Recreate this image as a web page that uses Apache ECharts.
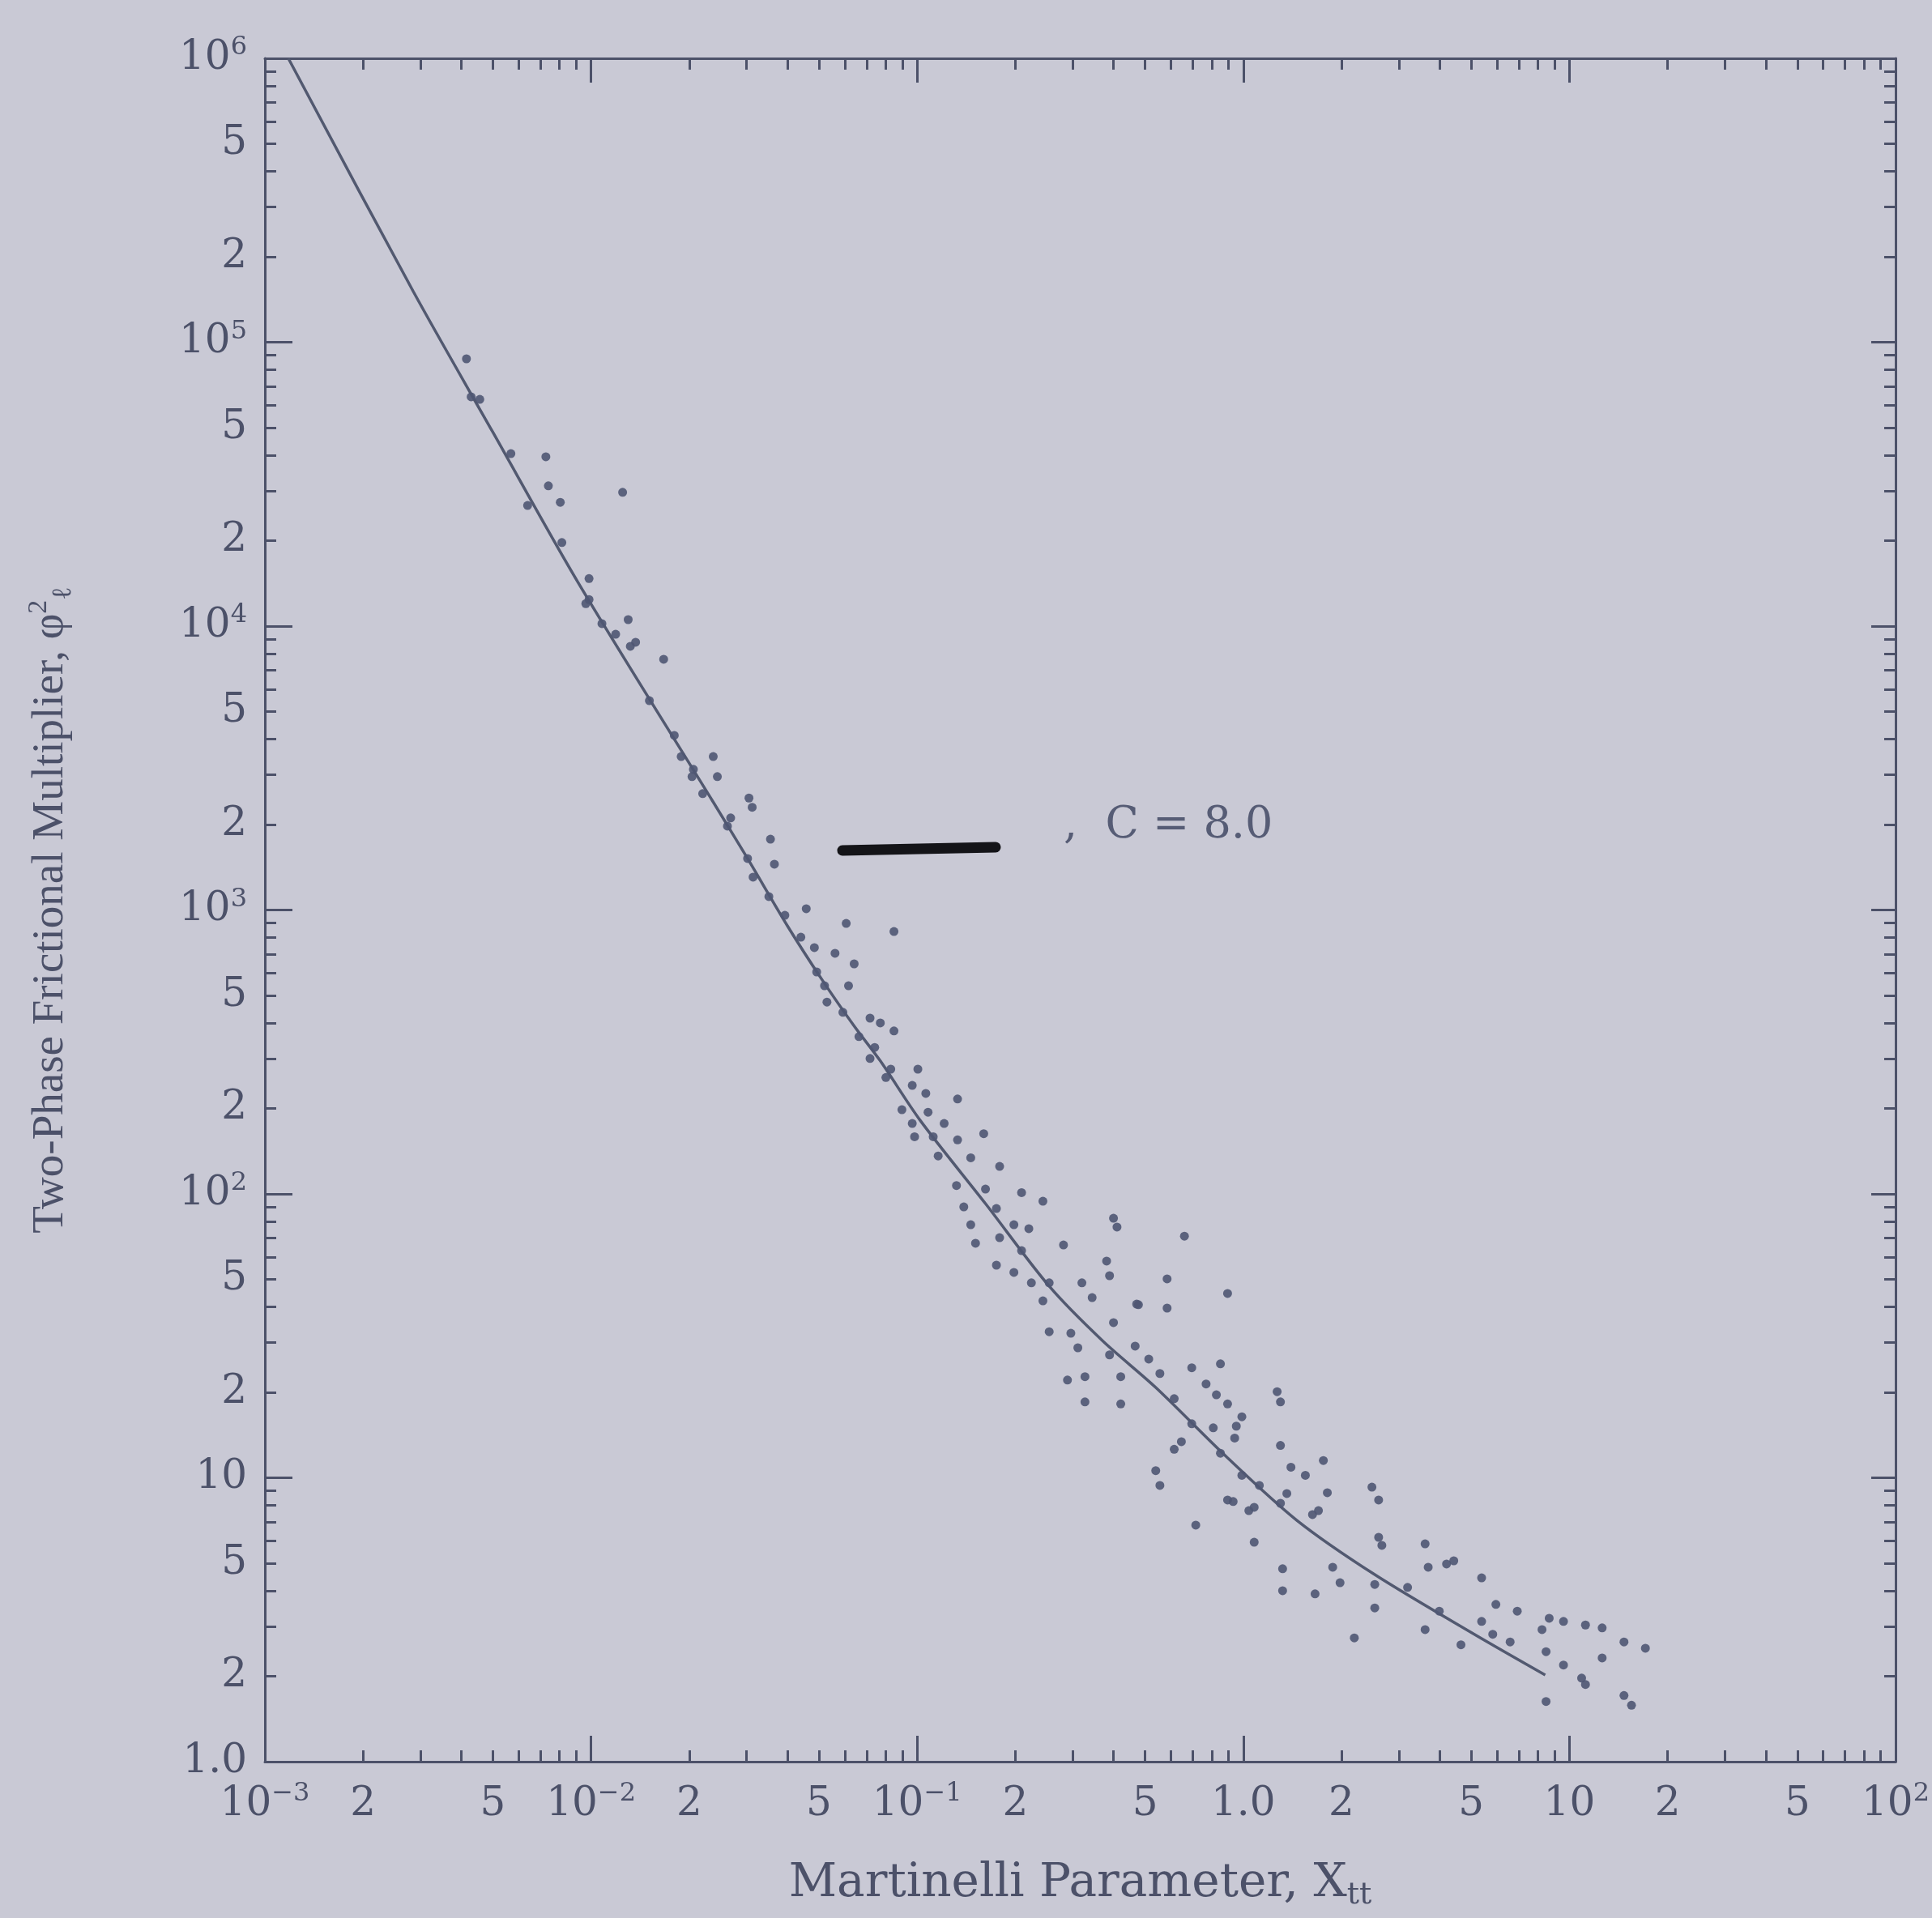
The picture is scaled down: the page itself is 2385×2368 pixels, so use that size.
<!DOCTYPE html>
<html>
<head>
<meta charset="utf-8">
<script src="https://cdn.jsdelivr.net/npm/echarts@6/dist/echarts.min.js"></script>
<style>
  html, body { margin: 0; padding: 0; background: #c9c9d5; }
  #chart { width: 2385px; height: 2368px; }
</style>
</head>
<body>
<div id="chart"></div>
<script>
// correlation curve (C = 8.0)
const curveX = [0.00118, 0.00285, 0.00499, 0.00911, 0.0237, 0.0302, 0.04, 0.0512, 0.0641, 0.0771,
  0.102, 0.162, 0.254, 0.37, 0.539, 0.885, 1.46, 2.53, 5.11, 8.43];
const curveY = [1.0e6, 1.51e5, 4.84e4, 1.43e4, 2400, 1518, 880, 566, 390, 294,
  182, 92.4, 47.3, 30.4, 20.8, 11.9, 7.08, 4.56, 2.81, 2.02];

// measured points, Martinelli parameter
const pointX = [
  0.00415, 0.00456, 0.00429, 0.00568, 0.00727, 0.0074, 0.00805, 0.00639, 0.0125, 0.00986,
  0.00986, 0.013, 0.0137, 0.0167, 0.018, 0.0189, 0.0237, 0.0244, 0.022, 0.0305,
  0.0312, 0.0262, 0.0355, 0.0204, 0.0268, 0.0119, 0.0132, 0.00964, 0.0151, 0.0206,
  0.0108, 0.00814, 0.0302, 0.0365, 0.0314, 0.0351, 0.0393, 0.0457, 0.0606, 0.0849,
  0.044, 0.0484, 0.056, 0.0641, 0.0492, 0.052, 0.0616, 0.0529, 0.0592, 0.0717,
  0.0771, 0.0663, 0.0849, 0.0741, 0.0717, 0.083, 0.1005, 0.0802, 0.0966, 0.1063,
  0.133, 0.0898, 0.108, 0.0966, 0.121, 0.112, 0.133, 0.16, 0.0982, 0.116,
  0.146, 0.179, 0.132, 0.162, 0.209, 0.243, 0.139, 0.175, 0.146, 0.198,
  0.22, 0.4, 0.41, 0.66, 0.151, 0.179, 0.281, 0.209, 0.175, 0.198,
  0.381, 0.389, 0.224, 0.254, 0.584, 0.32, 0.344, 0.243, 0.477, 0.584,
  0.895, 0.4, 0.254, 0.296, 0.311, 0.466, 0.389, 0.513, 0.695, 0.851,
  0.421, 0.289, 0.327, 0.555, 0.769, 0.327, 0.421, 0.614, 0.827, 0.895,
  1.27, 1.3, 0.99, 0.695, 0.809, 0.646, 0.941, 0.614, 1.3, 0.851,
  0.539, 1.4, 1.55, 1.76, 0.555, 0.99, 1.12, 0.895, 1.81, 1.04,
  1.3, 0.715, 1.63, 0.471, 0.952, 1.36, 2.48, 2.6, 1.7, 1.08,
  0.931, 2.6, 2.66, 1.08, 1.88, 1.32, 1.32, 1.66, 1.98, 2.53,
  2.53, 3.19, 3.61, 3.69, 4.2, 4.42, 5.38, 5.95, 6.92, 3.99,
  3.61, 4.65, 5.38, 5.82, 6.58, 8.24, 8.67, 9.59, 11.2, 12.6,
  14.7, 17.1, 8.48, 9.59, 10.9, 11.2, 12.6, 14.7, 15.5, 8.48,
  2.19
];
// measured points, two-phase multiplier
const pointY = [
  87400, 62900, 64200, 40500, 39500, 31200, 27300, 26600, 29600, 14700,
  12400, 10540, 8770, 7640, 4120, 3470, 3470, 2950, 2570, 2480,
  2300, 1975, 1776, 2950, 2110, 9360, 8490, 12000, 5460, 3130,
  10200, 19700, 1518, 1450, 1305, 1115, 958, 1010, 897, 840,
  802, 737, 704, 646, 605, 541, 541, 474, 436, 416,
  400, 358, 375, 328, 300, 275, 275, 257, 241, 226,
  216, 198, 194, 177, 177, 159, 155, 163, 159, 136,
  134, 125, 107, 104, 101, 94.2, 90, 88.8, 77.9, 77.9,
  75.4, 82.1, 76.4, 71, 67, 70.1, 66.1, 63.1, 56.1, 52.9,
  58, 51.5, 48.6, 48.6, 50.2, 48.6, 43.1, 42, 40.7, 39.6,
  44.6, 35.2, 32.7, 32.3, 28.7, 29.1, 27.1, 26.2, 24.4, 25.2,
  22.7, 22.1, 22.7, 23.3, 21.4, 18.5, 18.2, 19, 19.6, 18.2,
  20.1, 18.5, 16.4, 15.5, 15, 13.4, 13.8, 12.6, 13, 12.2,
  10.6, 10.9, 10.2, 11.5, 9.4, 10.2, 9.4, 8.35, 8.86, 7.66,
  8.13, 6.81, 7.42, 40.9, 15.2, 8.8, 9.27, 8.35, 7.66, 7.87,
  8.25, 6.17, 5.78, 5.93, 4.84, 4.78, 4.0, 3.9, 4.27, 4.21,
  3.48, 4.11, 5.85, 4.84, 4.97, 5.1, 4.44, 3.58, 3.39, 3.39,
  2.92, 2.58, 3.12, 2.81, 2.64, 2.92, 3.2, 3.12, 3.03, 2.96,
  2.64, 2.51, 2.44, 2.19, 1.97, 1.87, 2.32, 1.71, 1.58, 1.63,
  2.73
];

// tick labels
const xTickVals = [0.001, 0.002, 0.005, 0.01, 0.02, 0.05, 0.1, 0.2, 0.5, 1, 2, 5, 10, 20, 50, 100];
const xTickText = ['10{s|−3}', '2', '5', '10{s|−2}', '2', '5', '10{s|−1}', '2', '5', '1.0', '2', '5', '10', '2', '5', '10{s|2}'];
const yTickVals = [1, 2, 5, 10, 20, 50, 100, 200, 500, 1e3, 2e3, 5e3, 1e4, 2e4, 5e4, 1e5, 2e5, 5e5, 1e6];
const yTickText = ['1.0', '2', '5', '10', '2', '5', '10{s|2}', '2', '5', '10{s|3}', '2', '5', '10{s|4}', '2', '5', '10{s|5}', '2', '5', '10{s|6}'];

const lg = Math.log10;
const ink = '#4c5169';
const serif = 'DejaVu Serif';

// decade and in-between tick positions (log space)
function logTicks(lo, hi) {
  const major = [], minor = [];
  for (let k = lo; k <= hi; k++) {
    major.push(k);
    if (k < hi) for (let m = 2; m <= 9; m++) minor.push(k + lg(m));
  }
  return { major, minor };
}
const xt = logTicks(-3, 2);
const yt = logTicks(0, 6);

function labelFmt(vals, texts) {
  return function (v) {
    const i = vals.findIndex(t => Math.abs(lg(t) - v) < 1e-6);
    return i >= 0 ? texts[i] : '';
  };
}

const supRich = { s: { fontFamily: serif, fontSize: 32, color: ink, verticalAlign: 'top', lineHeight: 30 } };

function frameAxis(pos, min, max, ticks, len, line) {
  return {
    type: 'value', position: pos, min: min, max: max,
    axisLine: { show: line, onZero: false, lineStyle: { color: ink, width: 3 } },
    axisTick: { show: true, inside: true, length: len, customValues: ticks, lineStyle: { color: ink, width: 3 } },
    axisLabel: { show: false },
    splitLine: { show: false }
  };
}

const chart = echarts.init(document.getElementById('chart'));

const option = {
  backgroundColor: '#c9c9d5',
  animation: false,
  grid: { left: 327, right: 10, top: 72, bottom: 193, containLabel: false },
  xAxis: [
    {
      type: 'value', position: 'bottom', min: -3, max: 2,
      axisLine: { show: true, onZero: false, lineStyle: { color: ink, width: 3 } },
      axisTick: { show: true, inside: true, length: 32, customValues: xt.major, lineStyle: { color: ink, width: 3 } },
      axisLabel: {
        customValues: xTickVals.map(lg), formatter: labelFmt(xTickVals, xTickText),
        fontFamily: serif, fontSize: 50, color: ink, margin: 24, lineHeight: 58, rich: supRich,
        alignMinLabel: 'center', alignMaxLabel: 'center'
      },
      splitLine: { show: false },
      name: 'Martinelli Parameter, X{t|tt}', nameLocation: 'middle', nameGap: 118,
      nameTextStyle: {
        fontFamily: serif, fontSize: 58, color: ink, lineHeight: 66,
        rich: { t: { fontFamily: serif, fontSize: 38, color: ink, verticalAlign: 'bottom', lineHeight: 50 } }
      }
    },
    frameAxis('bottom', -3, 2, xt.minor, 14, false),
    frameAxis('top', -3, 2, xt.major, 30, true),
    frameAxis('top', -3, 2, xt.minor, 14, false)
  ],
  yAxis: [
    {
      type: 'value', position: 'left', min: 0, max: 6,
      axisLine: { show: true, onZero: false, lineStyle: { color: ink, width: 3 } },
      axisTick: { show: true, inside: true, length: 34, customValues: yt.major, lineStyle: { color: ink, width: 3 } },
      axisLabel: {
        customValues: yTickVals.map(lg), formatter: labelFmt(yTickVals, yTickText),
        fontFamily: serif, fontSize: 50, color: ink, margin: 22, lineHeight: 58, rich: supRich
      },
      splitLine: { show: false },
      name: 'Two-Phase Frictional Multiplier, φ{p|2}{b|ℓ}', nameLocation: 'middle', nameGap: 232,
      nameTextStyle: {
        fontFamily: 'Liberation Serif', fontSize: 55, color: ink, lineHeight: 64,
        rich: {
          p: { fontFamily: 'Liberation Serif', fontSize: 34, color: ink, verticalAlign: 'top', lineHeight: 34 },
          b: { fontFamily: 'Liberation Serif', fontSize: 34, color: ink, verticalAlign: 'bottom', lineHeight: 40 }
        }
      }
    },
    frameAxis('left', 0, 6, yt.minor, 14, false),
    frameAxis('right', 0, 6, yt.major, 30, true),
    frameAxis('right', 0, 6, yt.minor, 14, false)
  ],
  series: [
    {
      name: 'C = 8.0', type: 'line', xAxisIndex: 0, yAxisIndex: 0,
      data: curveX.map((x, i) => [lg(x), lg(curveY[i])]),
      showSymbol: false, smooth: 0.3, z: 3,
      lineStyle: { color: '#525970', width: 3.5 }
    },
    {
      name: 'data', type: 'scatter', xAxisIndex: 0, yAxisIndex: 0,
      data: pointX.map((x, i) => [lg(x), lg(pointY[i])]),
      symbol: 'circle', symbolSize: 11, z: 4,
      itemStyle: { color: '#4f5673', opacity: 0.9 }
    }
  ],
  graphic: [
    { type: 'line', shape: { x1: 1040, y1: 1050, x2: 1229, y2: 1046 }, style: { stroke: '#141418', lineWidth: 13, lineCap: 'round' } },
    { type: 'text', style: { x: 1313, y: 1020, text: ',  C = 8.0', font: '54px "DejaVu Serif"', fill: '#565c75', verticalAlign: 'middle' } }
  ]
};

chart.setOption(option);
</script>
</body>
</html>
